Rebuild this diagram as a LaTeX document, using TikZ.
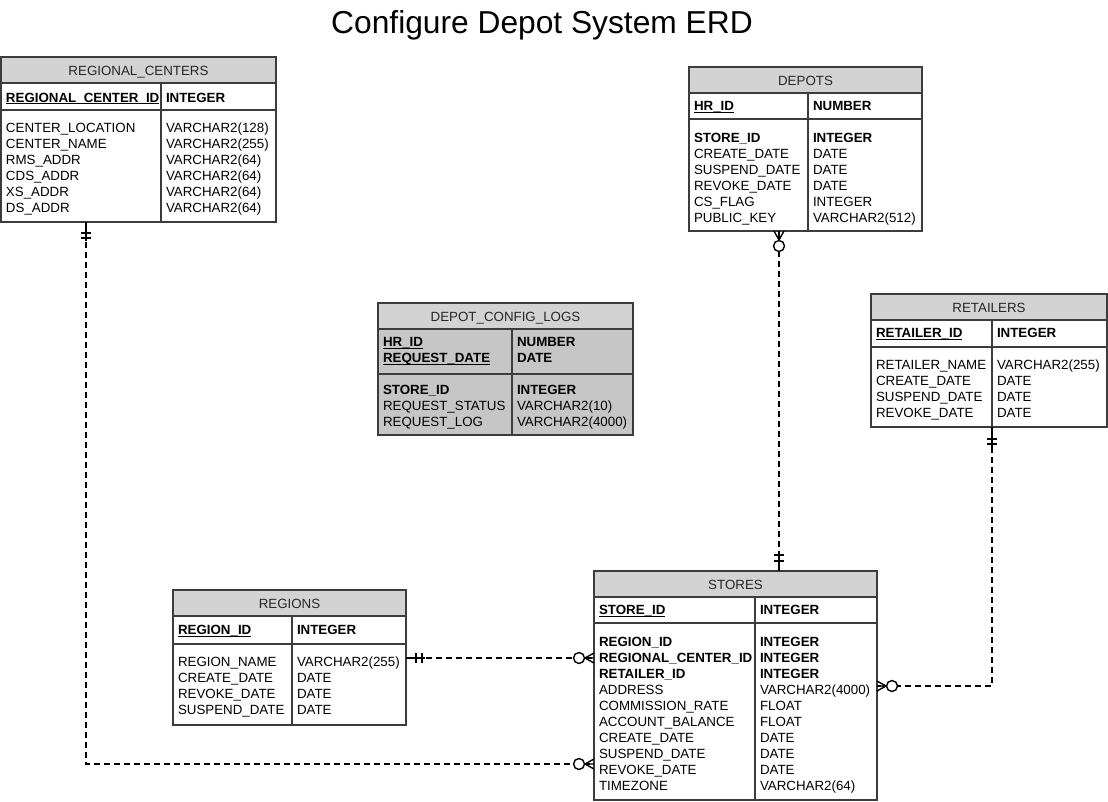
\documentclass[tikz,border=0pt]{standalone}
\usepackage{fontspec}
\setmainfont{Liberation Sans}
\usetikzlibrary{fit,calc}
\definecolor{hdr}{RGB}{211,211,211}
\definecolor{dclbody}{RGB}{198,198,198}
\definecolor{bord}{RGB}{60,60,60}
\tikzset{
 txt/.style={anchor=base west, inner sep=0, outer sep=0, font=\fontsize{10}{12}\selectfont, text=black},
 htxt/.style={anchor=base, inner sep=0, outer sep=0, font=\fontsize{10}{12}\selectfont, text=black!85},
 ent/.style={draw=bord, line width=0.9pt, inner sep=0, outer sep=0},
 conn/.style={draw=black, line width=1pt, dash pattern=on 4.5pt off 3pt},
 mk/.style={draw=black, line width=1.05pt, solid},
 circ/.style={draw=black, fill=white, line width=1.05pt, solid}
}
% name L T R B headerbottom pkbottom divider bodyfill
\newcommand\erdbox[9]{%
 \fill[#9] (#2,#6) rectangle (#4,#5);
 \fill[hdr] (#2,#3) rectangle (#4,#6);
 \draw[bord, line width=0.9pt] (#2,#6) -- (#4,#6) (#2,#7) -- (#4,#7) (#8,#6) -- (#8,#5);
 \node[ent, fit={(#2,#3)(#4,#5)}] (#1) {};
}
\newcommand\pkf[4]{%
 \node[txt] (#4) at (#1,#2) {\bfseries #3};
 \draw[line width=0.7pt] ([yshift=-1.4pt]#4.base west) -- ([yshift=-1.4pt]#4.base east);
}
\newcommand\fld[5]{\node[txt] at (#1,#3) {#4}; \node[txt] at (#2,#3) {#5};}
\newcommand\bfld[5]{\node[txt] at (#1,#3) {\bfseries #4}; \node[txt] at (#2,#3) {\bfseries #5};}
\begin{document}
\begin{tikzpicture}[x=0.75pt,y=-0.75pt]
\useasboundingbox (0,0) rectangle (1108,801);
\node[anchor=base, inner sep=0, font=\fontsize{23.8}{28}\selectfont] (title) at (542,33) {Configure Depot System ERD};

% ---------- REGIONAL_CENTERS
\erdbox{rc}{1}{57}{276}{222}{83}{110}{161}{white}
\node[htxt] (rc-h) at (138.5,75) {REGIONAL\_CENTERS};
\pkf{6}{102}{REGIONAL\_CENTER\_ID}{rc-pk}
\node[txt] at (166,102) {\bfseries INTEGER};
\foreach \a/\b [count=\i from 0] in {CENTER\_LOCATION/VARCHAR2(128),CENTER\_NAME/VARCHAR2(255),RMS\_ADDR/VARCHAR2(64),CDS\_ADDR/VARCHAR2(64),XS\_ADDR/VARCHAR2(64),DS\_ADDR/VARCHAR2(64)}
 {\fld{6}{166}{132.5+16*\i}{\a}{\b}}

% ---------- DEPOTS
\erdbox{dp}{689}{67}{922}{231}{93}{119}{808}{white}
\node[htxt] (dp-h) at (805.5,85) {DEPOTS};
\pkf{694}{110.5}{HR\_ID}{dp-pk}
\node[txt] at (813,110.5) {\bfseries NUMBER};
\bfld{694}{813}{142.5}{STORE\_ID}{INTEGER}
\foreach \a/\b [count=\i from 1] in {CREATE\_DATE/DATE,SUSPEND\_DATE/DATE,REVOKE\_DATE/DATE,CS\_FLAG/INTEGER,PUBLIC\_KEY/VARCHAR2(512)}
 {\fld{694}{813}{142.5+16*\i}{\a}{\b}}

% ---------- DEPOT_CONFIG_LOGS
\erdbox{dcl}{378}{303}{633}{435}{329}{374}{512}{dclbody}
\node[htxt] (dcl-h) at (505.5,321) {DEPOT\_CONFIG\_LOGS};
\pkf{383}{346.5}{HR\_ID}{dcl-pk1}
\pkf{383}{362.5}{REQUEST\_DATE}{dcl-pk2}
\node[txt] at (517,346.5) {\bfseries NUMBER};
\node[txt] at (517,362.5) {\bfseries DATE};
\bfld{383}{517}{394.5}{STORE\_ID}{INTEGER}
\fld{383}{517}{410.5}{REQUEST\_STATUS}{VARCHAR2(10)}
\fld{383}{517}{426.5}{REQUEST\_LOG}{VARCHAR2(4000)}

% ---------- RETAILERS
\erdbox{rt}{871}{294}{1107}{427}{320}{347}{992}{white}
\node[htxt] (rt-h) at (989,312) {RETAILERS};
\pkf{876}{337.5}{RETAILER\_ID}{rt-pk}
\node[txt] at (997,337.5) {\bfseries INTEGER};
\foreach \a/\b [count=\i from 0] in {RETAILER\_NAME/VARCHAR2(255),CREATE\_DATE/DATE,SUSPEND\_DATE/DATE,REVOKE\_DATE/DATE}
 {\fld{876}{997}{369.5+16*\i}{\a}{\b}}

% ---------- REGIONS
\erdbox{rg}{173}{590}{406}{725}{616}{644}{292}{white}
\node[htxt] (rg-h) at (289.5,608) {REGIONS};
\pkf{178}{634.5}{REGION\_ID}{rg-pk}
\node[txt] at (297,634.5) {\bfseries INTEGER};
\foreach \a/\b [count=\i from 0] in {REGION\_NAME/VARCHAR2(255),CREATE\_DATE/DATE,REVOKE\_DATE/DATE,SUSPEND\_DATE/DATE}
 {\fld{178}{297}{666.5+16*\i}{\a}{\b}}

% ---------- STORES
\erdbox{st}{594}{571}{877}{800}{597}{623}{755}{white}
\node[htxt] (st-h) at (735.5,589) {STORES};
\pkf{599}{614.5}{STORE\_ID}{st-pk}
\node[txt] at (760,614.5) {\bfseries INTEGER};
\bfld{599}{760}{646.5}{REGION\_ID}{INTEGER}
\bfld{599}{760}{662.5}{REGIONAL\_CENTER\_ID}{INTEGER}
\bfld{599}{760}{678.5}{RETAILER\_ID}{INTEGER}
\foreach \a/\b [count=\i from 3] in {ADDRESS/VARCHAR2(4000),COMMISSION\_RATE/FLOAT,ACCOUNT\_BALANCE/FLOAT,CREATE\_DATE/DATE,SUSPEND\_DATE/DATE,REVOKE\_DATE/DATE,TIMEZONE/VARCHAR2(64)}
 {\fld{599}{760}{646.5+16*\i}{\a}{\b}}

% ---------- connectors
\coordinate (rcx) at (86,0);
\coordinate (dx) at (779,0);
\coordinate (rx) at (992,0);
\coordinate (y658) at (0,658);
\coordinate (y686) at (0,686);
\coordinate (y764) at (0,764);

\coordinate (pC) at (rcx |- rc.south);
\coordinate (pSW2) at (st.west |- y764);
\coordinate (pG) at (rg.east |- y658);
\coordinate (pSW1) at (st.west |- y658);
\coordinate (pD) at (dx |- dp.south);
\coordinate (pSN) at (dx |- st.north);
\coordinate (pR) at (rx |- rt.south);
\coordinate (pSE) at (st.east |- y686);

\draw[conn] (pC) -- (rcx |- y764) -- (pSW2);
\draw[conn] (pG) -- (pSW1);
\draw[conn] (pD) -- (pSN);
\draw[conn] (pR) -- (rx |- y686) -- (pSE);

% one-and-only-one marks
\draw[mk] (pC) -- ($(pC)+(0,19)$);
\draw[mk] ($(pC)+(-5,11)$) -- ++(10,0) ($(pC)+(-5,16)$) -- ++(10,0);
\draw[mk] (pR) -- ($(pR)+(0,20)$);
\draw[mk] ($(pR)+(-5,12)$) -- ++(10,0) ($(pR)+(-5,17)$) -- ++(10,0);
\draw[mk] (pSN) -- ($(pSN)+(0,-20)$);
\draw[mk] ($(pSN)+(-5,-10)$) -- ++(10,0) ($(pSN)+(-5,-16)$) -- ++(10,0);
\draw[mk] (pG) -- ($(pG)+(19,0)$);
\draw[mk] ($(pG)+(10,-5)$) -- ++(0,10) ($(pG)+(16,-5)$) -- ++(0,10);

% zero-or-many marks
\draw[mk] ($(pSW1)+(-9,0)$) -- ($(pSW1)+(0,-5)$) ($(pSW1)+(-9,0)$) -- (pSW1) ($(pSW1)+(-9,0)$) -- ($(pSW1)+(0,5)$);
\draw[circ] ($(pSW1)+(-15,0)$) circle[radius=4.1pt];
\draw[mk] ($(pSW2)+(-9,0)$) -- ($(pSW2)+(0,-5)$) ($(pSW2)+(-9,0)$) -- (pSW2) ($(pSW2)+(-9,0)$) -- ($(pSW2)+(0,5)$);
\draw[circ] ($(pSW2)+(-15,0)$) circle[radius=4.1pt];
\draw[mk] ($(pSE)+(9,0)$) -- ($(pSE)+(0,-5)$) ($(pSE)+(9,0)$) -- (pSE) ($(pSE)+(9,0)$) -- ($(pSE)+(0,5)$);
\draw[circ] ($(pSE)+(15,0)$) circle[radius=4.1pt];
\draw[mk] ($(pD)+(0,9)$) -- ($(pD)+(-5,0)$) ($(pD)+(0,9)$) -- (pD) ($(pD)+(0,9)$) -- ($(pD)+(5,0)$);
\draw[circ] ($(pD)+(0,15)$) circle[radius=4.1pt];
\end{tikzpicture}
\end{document}
